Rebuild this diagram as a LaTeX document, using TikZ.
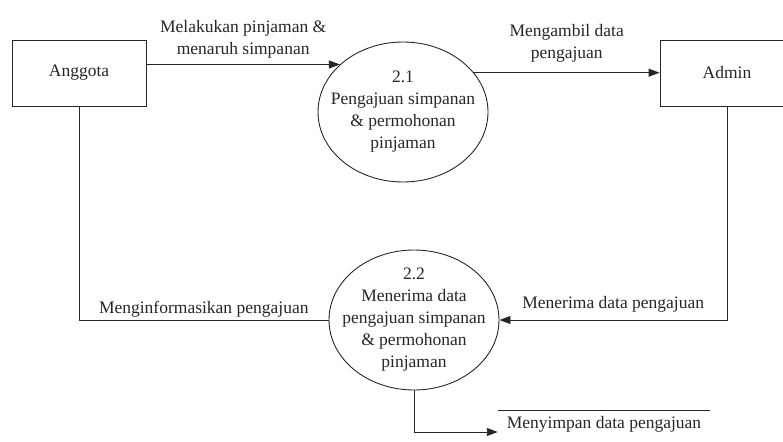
\documentclass[tikz,border=0pt]{standalone}
\usepackage{fontspec}
\setmainfont{Liberation Serif}
\newfontfamily\dfdfont{Liberation Serif}
\usetikzlibrary{shapes.geometric, arrows.meta}

\tikzset{
    entity/.style={draw, line width=0.9pt, minimum width=134pt, minimum height=66pt, inner sep=0pt},
    process/.style={draw, ellipse, line width=0.9pt, minimum width=170pt, minimum height=140pt, inner sep=-14pt, align=center},
    flow/.style={line width=0.9pt, -{Triangle[length=11pt, width=8pt]}},
    plain/.style={line width=0.9pt},
    lbl/.style={align=center, inner sep=2pt}
}

\begin{document}
\begin{tikzpicture}[x=1pt, y=-1pt, font=\dfdfont\fontsize{17.5}{22}\selectfont, color=black!85]
            \useasboundingbox (0, 0) rectangle (783, 441);

            \node[entity] (anggota) at (79, 73) {Anggota};
            \node[entity] (admin) at (727, 73) {Admin};

            \node[process] (p21) at (403, 112) {2.1\\Pengajuan simpanan\\\& permohonan\\pinjaman};
            \node[process] (p22) at (414, 320) {2.2\\Menerima data\\pengajuan simpanan\\\& permohonan\\pinjaman};

            \node[minimum width=212pt, minimum height=26pt, inner sep=0pt] (store) at (604, 424) {Menyimpan data pengajuan};
            \draw[plain] (store.north west) -- (store.north east);

            \draw[flow] (anggota.east |- p21.143) -- node[lbl, above=4pt] (l1) {Melakukan pinjaman \&\\menaruh simpanan} (p21.143);
            \draw[flow] (p21.29) -- node[lbl, above=8pt] (l2) {Mengambil data\\pengajuan} (p21.29 -| admin.west);

            \draw[flow] (admin.south) |- node[lbl, above=5pt, pos=0.75] (l3) {Menerima data pengajuan} (p22.east);
            \draw[plain] (anggota.south) |- node[lbl, above, pos=0.75] (l4) {Menginformasikan pengajuan} (p22.west);

            \draw[flow] (p22.south) |- ([yshift=-8pt]store.west);
        \end{tikzpicture}
\end{document}
